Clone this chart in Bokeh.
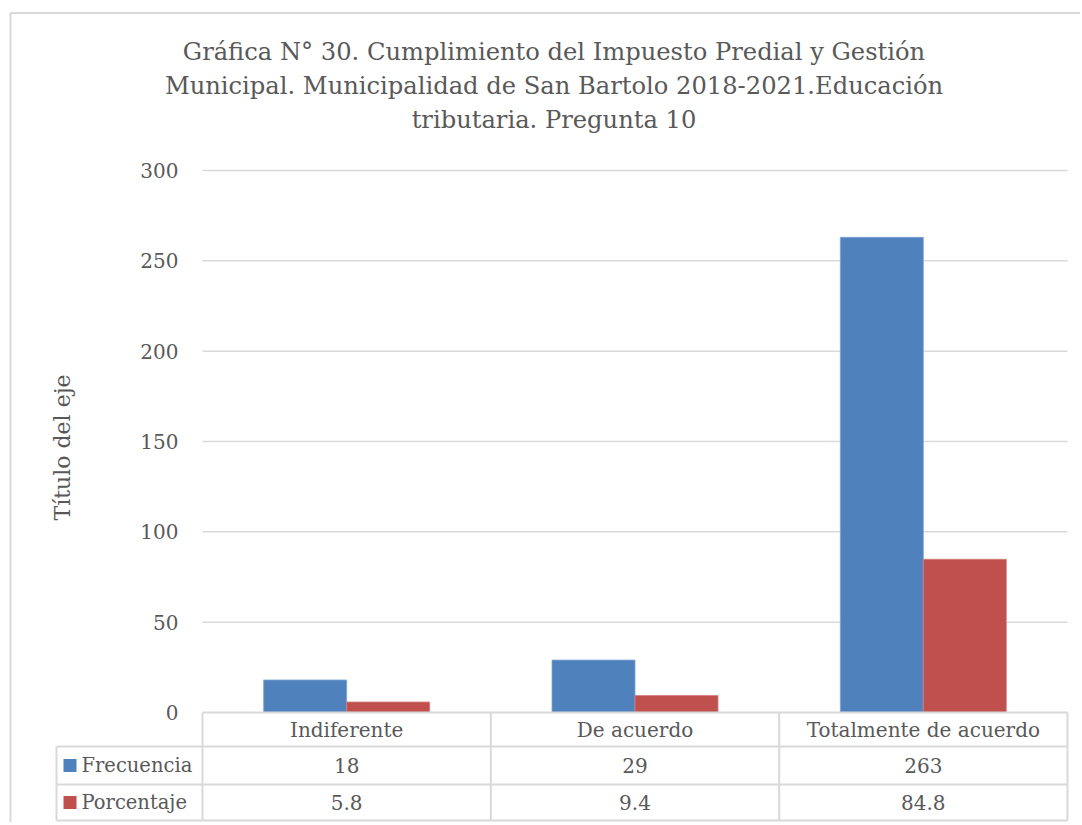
import math
from bokeh.plotting import figure
from bokeh.models import Range1d
from bokeh.core.properties import value
from bokeh.embed import file_html
from bokeh.resources import INLINE

# ---------------- data ----------------
categories = ["Indiferente", "De acuerdo", "Totalmente de acuerdo"]
series_names = ["Frecuencia", "Porcentaje"]
frecuencia = [18, 29, 263]
porcentaje = [5.8, 9.4, 84.8]
y_ticks = [0, 50, 100, 150, 200, 250, 300]
title_lines = [
    "Gráfica N° 30. Cumplimiento del Impuesto Predial y Gestión",
    "Municipal. Municipalidad de San Bartolo 2018-2021.Educación",
    "tributaria. Pregunta 10",
]
y_title = "Título del eje"

# ---------------- layout helpers (page pixel -> data) ----------------
W, H = 1080, 822
PAGE = 0
LEFT, RIGHT = 202, 1067          # plot area in page px
TOP, BOTTOM = 170, 712           # y=300 and y=0 in page px
CAT_PX = (RIGHT - LEFT) / 3.0
PX_PER = (BOTTOM - TOP) / 300.0


def xd(X):
    return (X - (LEFT + CAT_PX / 2)) / CAT_PX


def yd(Y):
    return (BOTTOM - Y) / PX_PER


FONT = value("DejaVu Serif")
TXT = "#595959"
GRID = "#d9d9d9"
BLUE = "#4F81BD"
RED = "#C0504D"

p = figure(width=W, height=H,
           x_range=Range1d(xd(PAGE), xd(PAGE + W)),
           y_range=Range1d(yd(PAGE + H), yd(PAGE)),
           x_axis_location=None, y_axis_location=None,
           output_backend="svg", toolbar_location=None,
           min_border=0)
p.grid.visible = False
p.outline_line_color = None
p.background_fill_color = "white"
p.border_fill_color = "white"

# outer chart border
p.segment(x0=[xd(10)], x1=[xd(1100)], y0=[yd(12.5)], y1=[yd(12.5)],
          line_color=GRID, line_width=2)
p.segment(x0=[xd(10)], x1=[xd(10)], y0=[yd(12)], y1=[yd(900)],
          line_color=GRID, line_width=2)

# title
p.text(x=[xd(553.5)] * 3, y=[yd(51), yd(85), yd(119)], text=title_lines,
       text_font=FONT, text_font_size="24.2px", text_color=TXT,
       text_align="center", text_baseline="middle")

# gridlines
grid_ticks = [t for t in y_ticks if t > 0]
p.segment(x0=[-0.5] * len(grid_ticks), x1=[2.5] * len(grid_ticks),
          y0=grid_ticks, y1=grid_ticks, line_color=GRID, line_width=1.5)

# y tick labels
p.text(x=[xd(178)] * len(y_ticks), y=y_ticks, text=[str(t) for t in y_ticks],
       text_font=FONT, text_font_size="20px", text_color=TXT,
       text_align="right", text_baseline="middle")

# y axis title
p.text(x=[xd(62)], y=[yd(447)], text=[y_title], angle=math.pi / 2,
       text_font=FONT, text_font_size="22px", text_color=TXT,
       text_align="center", text_baseline="middle")

# bars
BW = 83 / CAT_PX
idx = list(range(len(categories)))
p.vbar(x=[i - BW / 2 for i in idx], width=BW, top=frecuencia, bottom=0,
       fill_color=BLUE, line_color="#7FA3D3", line_width=0.8)
p.vbar(x=[i + BW / 2 for i in idx], width=BW, top=porcentaje, bottom=0,
       fill_color=RED, line_color="#D47E7C", line_width=0.8)

# data table lines
row_y = [746, 784, 820]
p.segment(x0=[-0.5], x1=[2.5], y0=[0], y1=[0], line_color=GRID, line_width=2)
p.segment(x0=[xd(56)] * 3, x1=[2.5] * 3, y0=[yd(v) for v in row_y],
          y1=[yd(v) for v in row_y], line_color=GRID, line_width=2)
p.segment(x0=[xd(56)], x1=[xd(56)], y0=[yd(746)], y1=[yd(820)],
          line_color=GRID, line_width=2)
col_x = [-0.5, 0.5, 1.5, 2.5]
p.segment(x0=col_x, x1=col_x, y0=[0] * 4, y1=[yd(820)] * 4,
          line_color=GRID, line_width=2)

# table header (categories)
p.text(x=idx, y=[yd(729)] * 3, text=categories,
       text_font=FONT, text_font_size="20px", text_color=TXT,
       text_align="center", text_baseline="middle")

# table values
p.text(x=idx, y=[yd(765)] * 3, text=[str(v) for v in frecuencia],
       text_font=FONT, text_font_size="20px", text_color=TXT,
       text_align="center", text_baseline="middle")
p.text(x=idx, y=[yd(802)] * 3, text=[str(v) for v in porcentaje],
       text_font=FONT, text_font_size="20px", text_color=TXT,
       text_align="center", text_baseline="middle")

# legend keys + names
p.rect(x=[xd(69.5)] * 2, y=[yd(765), yd(802)], width=13, height=13,
       width_units="screen", height_units="screen",
       fill_color=[BLUE, RED], line_color=None)
p.text(x=[xd(81)] * 2, y=[yd(765), yd(802)], text=series_names,
       text_font=FONT, text_font_size="19.5px", text_color=TXT,
       text_align="left", text_baseline="middle")

open("out.html", "w").write(file_html(p, INLINE))
